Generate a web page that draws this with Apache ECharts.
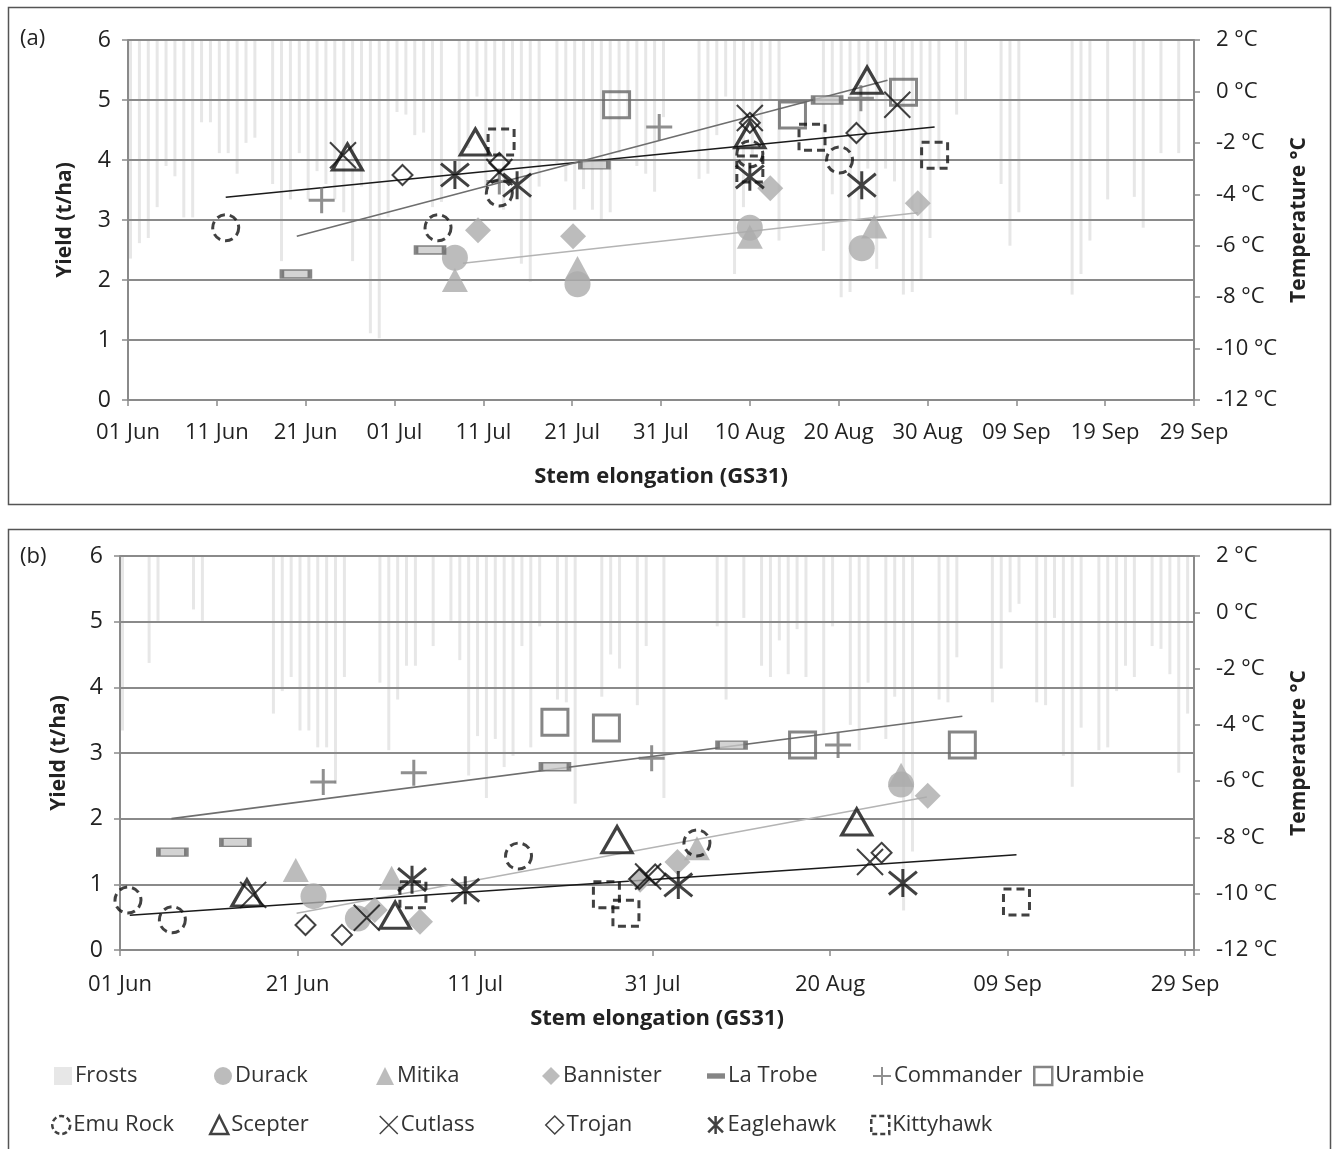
<!DOCTYPE html>
<html>
<head>
<meta charset="utf-8">
<script src="https://cdn.jsdelivr.net/npm/echarts@6/dist/echarts.min.js"></script>
<style>
html,body{margin:0;padding:0;background:#fff;}
#chart{width:1335px;height:1149px;}
</style>
</head>
<body>
<div id="chart"></div>
<script>
// ---------- DATA (x = days after 01 Jun, y = yield t/ha or temperature °C) ----------
const varieties = ['Durack','Mitika','Bannister','La Trobe','Commander','Urambie',
                   'Emu Rock','Scepter','Cutlass','Trojan','Eaglehawk','Kittyhawk'];

// Panel (a)
const frostA = [[0,-6.5],[1,-5.9],[2,-5.7],[3,-4.5],[4,-2.9],[5,-3.3],[6,-4.9],[7,-4.9],[8,-1.2],[9,-1.2],[10,-2.4],[11,-2.4],[12,-3.2],[13,-2.0],[14,-1.8],[16,-3.6],[17,-6.6],[18,-4.2],[19,-2.4],[20,-4.2],[21,-3.1],[22,-3.6],[23,-4.2],[24,-4.7],[25,-6.6],[26,-3.7],[27,-9.4],[28,-9.6],[29,-4.9],[30,-0.8],[31,-0.9],[32,-1.7],[33,-1.6],[34,-4.5],[35,-4.3],[37,-3.4],[38,-2.2],[39,-0.2],[40,-3.8],[41,-2.6],[42,-4.6],[43,-0.3],[44,-6.7],[45,-7.4],[46,-3.7],[48,-2.8],[49,-3.5],[50,-4.6],[51,-3.8],[52,-4.6],[53,-5.0],[54,-4.7],[55,-2.4],[56,-1.0],[57,-2.9],[58,-3.2],[59,-3.9],[60,-1.0],[64,-3.4],[65,-3.2],[66,-1.7],[67,-0.2],[68,-7.1],[69,-4.5],[70,-2.5],[71,-2.0],[72,-0.3],[73,-5.8],[78,-6.2],[79,-4.0],[80,-8.0],[81,-7.8],[82,-5.0],[83,-3.0],[84,-6.9],[85,-3.0],[86,-3.5],[87,-7.9],[88,-7.8],[89,-7.3],[90,-5.7],[91,-3.0],[93,-0.9],[94,-0.3],[98,-3.6],[99,-6.0],[100,-4.7],[106,-7.9],[107,-7.1],[108,-5.8],[110,-4.2],[113,-4.1],[114,-5.3],[116,-2.4],[118,-2.4]];
const durackA    = [[36.8,2.37],[50.6,1.93],[70,2.87],[82.6,2.53]];
const mitikaA    = [[36.8,2.0],[50.6,2.2],[70,2.72],[84,2.89]];
const bannisterA = [[39.4,2.83],[50.1,2.73],[72.3,3.53],[88.9,3.28]];
const latrobeA   = [[18.9,2.1],[34,2.5],[52.5,3.92],[78.7,5.0]];
const commanderA = [[21.8,3.33],[41.8,3.64],[59.8,4.55],[82.5,5.03]];
const urambieA   = [[55,4.92],[74.8,4.75],[87.3,5.13]];
const emurockA   = [[11,2.87],[34.9,2.87],[41.8,3.45],[70,4.1],[80.1,4.0]];
const scepterA   = [[24.7,4.05],[39.1,4.3],[70,4.42],[83.2,5.33]];
const cutlassA   = [[24.2,4.08],[41.8,3.8],[70,4.7],[86.6,4.92]];
const trojanA    = [[30.9,3.75],[41.8,3.95],[70,4.62],[82,4.45]];
const eaglehawkA = [[36.8,3.75],[43.8,3.58],[70,3.72],[82.6,3.58]];
const kittyhawkA = [[42,4.3],[70,3.85],[77,4.38],[90.8,4.08]];
const trendBlackA = [[11,3.38],[90.8,4.55]];
const trendGreyA  = [[19,2.73],[85.5,5.33]];
const trendLightA = [[37.7,2.28],[88.9,3.12]];

// Panel (b)
const frostB = [[0,-4.2],[3,-1.8],[4,-0.3],[8,0.1],[9,-0.3],[17,-3.6],[18,-2.8],[19,-2.3],[20,-4.2],[21,-4.2],[22,-4.8],[23,-4.8],[24,-6.1],[25,-2.3],[29,-2.5],[30,-4.9],[31,-3.1],[32,-1.9],[33,-1.9],[35,-1.2],[37,-0.3],[38,-1.7],[39,-5.8],[40,-4.4],[41,-6.6],[42,-4.5],[43,-5.5],[44,-5.1],[45,-1.2],[46,-4.8],[47,-0.5],[49,-3.1],[50,-3.2],[51,-6.8],[54,-3.0],[55,-1.5],[56,-2.0],[58,-3.3],[59,-1.2],[61,-6.6],[67,-0.5],[68,-3.1],[70,-0.2],[72,-1.9],[73,-2.3],[74,-1.0],[75,-2.2],[76,-0.6],[77,-2.3],[79,-4.3],[80,-0.5],[82,-4.0],[83,-4.9],[84,-2.5],[86,-4.5],[87,-3.0],[88,-10.6],[89,-8.5],[92,-3.1],[93,-3.2],[94,-1.6],[98,-3.2],[99,-2.0],[100,0.0],[101,0.3],[103,-3.2],[104,-3.3],[105,-0.2],[106,-5.1],[107,-6.2],[108,-4.1],[110,-4.9],[111,-4.8],[112,-2.8],[113,-1.9],[114,-2.3],[116,-1.2],[117,-1.3],[118,-2.2],[119,-5.7],[120,-3.6]];
const durackB    = [[21.8,0.82],[26.8,0.48],[88,2.52]];
const mitikaB    = [[19.8,1.22],[30.6,1.1],[65,1.55],[88,2.67]];
const bannisterB = [[28.7,0.61],[33.8,0.43],[58.6,1.07],[62.8,1.34],[91,2.35]];
const latrobeB   = [[5.9,1.49],[13,1.64],[49,2.79],[68.9,3.12]];
const commanderB = [[22.9,2.56],[33.1,2.7],[59.9,2.92],[80.9,3.12]];
const urambieB   = [[49,3.47],[54.8,3.38],[76.9,3.12],[94.9,3.12]];
const emurockB   = [[0.9,0.76],[5.9,0.46],[44.9,1.43],[65,1.63]];
const scepterB   = [[14.3,0.87],[31,0.53],[56,1.68],[83,1.95]];
const cutlassB   = [[15,0.84],[27.8,0.49],[59.5,1.12],[84.5,1.34]];
const trojanB    = [[20.9,0.38],[25,0.23],[58.5,1.08],[60.3,1.15],[85.8,1.48]];
const eaglehawkB = [[32.9,1.07],[38.9,0.91],[62.9,0.99],[88.2,1.02]];
const kittyhawkB = [[33,0.84],[54.8,0.84],[57,0.56],[101,0.73]];
const trendGreyB  = [[5.8,2.0],[94.9,3.56]];
const trendLightB = [[19.9,0.56],[90.9,2.33]];
const trendBlackB = [[1.1,0.53],[101,1.45]];

// ---------- STYLES ----------
const FONT = 'Open Sans';
const MONTHS = ['Jan','Feb','Mar','Apr','May','Jun','Jul','Aug','Sep','Oct','Nov','Dec'];
function dayLabel(d){
  const dt = new Date(Date.UTC(2021,5,1) + d*86400000);
  return String(dt.getUTCDate()).padStart(2,'0') + ' ' + MONTHS[dt.getUTCMonth()];
}
const PLUS = 'path://M0,-10L0,10M-10,0L10,0';
const CROSS = 'path://M-10,-10L10,10M-10,10L10,-10';
const STAR = 'path://M0,-11L0,11M-9,-9L9,9M-9,9L9,-9';
const LG = '#ababab', DG = '#666666', BK = '#111';
const FROST = '#e7e7e7';
const styleOf = {
  'Durack':    {symbol:'circle', symbolSize:26, itemStyle:{color:LG}},
  'Mitika':    {symbol:'triangle', symbolSize:[26,24], itemStyle:{color:LG}},
  'Bannister': {symbol:'diamond', symbolSize:26, itemStyle:{color:LG}},
  'La Trobe':  {symbol:'rect', symbolSize:[28,8], itemStyle:{color:'#c8c8c8', borderColor:DG, borderWidth:2.5}},
  'Commander': {symbol:PLUS, symbolSize:26, itemStyle:{color:'transparent', borderColor:'#737373', borderWidth:3}},
  'Urambie':   {symbol:'rect', symbolSize:26, itemStyle:{color:'transparent', borderColor:DG, borderWidth:3}},
  'Emu Rock':  {symbol:'circle', symbolSize:26, itemStyle:{color:'transparent', borderColor:BK, borderWidth:3, borderType:[8,5]}},
  'Scepter':   {symbol:'triangle', symbolSize:[30,26], itemStyle:{color:'transparent', borderColor:BK, borderWidth:3.2}},
  'Cutlass':   {symbol:CROSS, symbolSize:26, itemStyle:{color:'transparent', borderColor:BK, borderWidth:2}},
  'Trojan':    {symbol:'diamond', symbolSize:20, itemStyle:{color:'transparent', borderColor:BK, borderWidth:2}},
  'Eaglehawk': {symbol:STAR, symbolSize:28, itemStyle:{color:'transparent', borderColor:BK, borderWidth:3}},
  'Kittyhawk': {symbol:'rect', symbolSize:26, itemStyle:{color:'transparent', borderColor:BK, borderWidth:3, borderType:[8,5]}}
};
const dataA = {'Durack':durackA,'Mitika':mitikaA,'Bannister':bannisterA,'La Trobe':latrobeA,'Commander':commanderA,'Urambie':urambieA,'Emu Rock':emurockA,'Scepter':scepterA,'Cutlass':cutlassA,'Trojan':trojanA,'Eaglehawk':eaglehawkA,'Kittyhawk':kittyhawkA};
const dataB = {'Durack':durackB,'Mitika':mitikaB,'Bannister':bannisterB,'La Trobe':latrobeB,'Commander':commanderB,'Urambie':urambieB,'Emu Rock':emurockB,'Scepter':scepterB,'Cutlass':cutlassB,'Trojan':trojanB,'Eaglehawk':eaglehawkB,'Kittyhawk':kittyhawkB};

const AX = '#8a8a8a', TXT = '#222';

function xAxisFor(gi, max, interval, margin, nameGap){
  return {
    type:'value', gridIndex:gi, min:0, max:max, interval:interval,
    axisLine:{show:true, onZero:false, lineStyle:{color:AX, width:2}},
    axisTick:{show:true, length:6, lineStyle:{color:AX, width:1.5}},
    splitLine:{show:false},
    axisLabel:{fontFamily:FONT, fontSize:22, color:TXT, margin:margin,
      formatter:v => (v % interval === 0 ? dayLabel(v) : '')},
    name:'Stem elongation (GS31)', nameLocation:'middle', nameGap:nameGap,
    nameTextStyle:{fontFamily:FONT, fontSize:22, fontWeight:'bold', color:TXT}
  };
}
function yieldAxis(gi, nameGap){
  return {
    type:'value', gridIndex:gi, min:0, max:6, interval:1, position:'left',
    axisLine:{show:true, lineStyle:{color:AX, width:2}},
    axisTick:{show:true, length:6, lineStyle:{color:AX, width:1.5}},
    splitLine:{show:true, lineStyle:{color:AX, width:2}},
    axisLabel:{fontFamily:FONT, fontSize:23, color:TXT, margin:17},
    name:'Yield (t/ha)', nameLocation:'middle', nameGap:nameGap, nameRotate:90,
    nameTextStyle:{fontFamily:FONT, fontSize:21, fontWeight:'bold', color:TXT}
  };
}
function tempAxis(gi, nameGap){
  return {
    type:'value', gridIndex:gi, min:-12, max:2, interval:2, position:'right',
    axisLine:{show:true, lineStyle:{color:AX, width:2}},
    axisTick:{show:true, length:6, lineStyle:{color:AX, width:1.5}},
    splitLine:{show:false},
    axisLabel:{fontFamily:FONT, fontSize:22, color:TXT, margin:22, formatter:v => v + ' °C'},
    name:'Temperature °C', nameLocation:'middle', nameGap:nameGap, nameRotate:90,
    nameTextStyle:{fontFamily:FONT, fontSize:21, fontWeight:'bold', color:TXT}
  };
}

function frostSeries(data, xi, yi){
  return {
    type:'custom', name:'Frosts', xAxisIndex:xi, yAxisIndex:yi, z:-1,
    itemStyle:{color:FROST},
    encode:{x:0, y:1},
    data:data, silent:true,
    renderItem:function(params, api){
      const top = api.coord([api.value(0), 2]);
      const bot = api.coord([api.value(0), api.value(1)]);
      return {type:'rect', shape:{x:top[0]+1, y:top[1], width:3, height:bot[1]-top[1]},
              style:{fill:FROST}};
    }
  };
}
function trend(data, color, xi, yi, name){
  return {type:'line', name:name, xAxisIndex:xi, yAxisIndex:yi, data:data, showSymbol:false,
          symbol:'none', z:3, lineStyle:{color:color, width:1.6}, silent:true};
}

const series = [];
series.push(frostSeries(frostA, 0, 1));
series.push(frostSeries(frostB, 1, 3));
series.push(trend(trendBlackA, '#1a1a1a', 0, 0, 'tA1'));
series.push(trend(trendGreyA, '#6e6e6e', 0, 0, 'tA2'));
series.push(trend(trendLightA, '#b4b4b4', 0, 0, 'tA3'));
series.push(trend(trendGreyB, '#6e6e6e', 1, 2, 'tB1'));
series.push(trend(trendLightB, '#b4b4b4', 1, 2, 'tB2'));
series.push(trend(trendBlackB, '#1a1a1a', 1, 2, 'tB3'));
varieties.forEach(v => {
  series.push(Object.assign({type:'scatter', name:v, xAxisIndex:0, yAxisIndex:0, z:4, data:dataA[v], emphasis:{disabled:true}}, styleOf[v]));
  series.push(Object.assign({type:'scatter', name:v, xAxisIndex:1, yAxisIndex:2, z:4, data:dataB[v], emphasis:{disabled:true}}, styleOf[v]));
});

// legend entries: name, icon, icon style, position (left edge of icon, vertical centre)
const legendItems = [
  ['Frosts','rect',{color:FROST}, 54, 1078],
  ['Durack','circle',{color:LG}, 214, 1078],
  ['Mitika','triangle',{color:LG}, 376, 1078],
  ['Bannister','diamond',{color:LG}, 542, 1078],
  ['La Trobe','path://M0,0L20,0L20,6L0,6Z',{color:DG, borderColor:DG, borderWidth:0}, 707, 1078],
  ['Commander',PLUS,{color:'transparent', borderColor:'#737373', borderWidth:2}, 872, 1078],
  ['Urambie','rect',{color:'transparent', borderColor:DG, borderWidth:2.5}, 1033, 1078],
  ['Emu Rock','circle',{color:'transparent', borderColor:BK, borderWidth:2.5, borderType:[5,3]}, 51, 1127],
  ['Scepter','triangle',{color:'transparent', borderColor:BK, borderWidth:2.5}, 209, 1127],
  ['Cutlass',CROSS,{color:'transparent', borderColor:BK, borderWidth:1.5}, 379, 1127],
  ['Trojan','diamond',{color:'transparent', borderColor:BK, borderWidth:1.5}, 545, 1127],
  ['Eaglehawk',STAR,{color:'transparent', borderColor:BK, borderWidth:2.5}, 707, 1127],
  ['Kittyhawk','rect',{color:'transparent', borderColor:BK, borderWidth:2.5, borderType:[5,3]}, 870, 1127]
];
const legends = legendItems.map(it => ({
  left: it[3], top: it[4] - 13, orient:'horizontal', itemWidth:18, itemHeight:18,
  selectedMode:false, padding:0,
  data:[{name:it[0], icon:it[1], itemStyle:it[2]}],
  textStyle:{fontFamily:FONT, fontSize:22, color:'#333', padding:[0,0,0,-2]}
}));

const chart = echarts.init(document.getElementById('chart'), null, {renderer:'canvas'});
chart.setOption({
  animation:false,
  backgroundColor:'#fff',
  grid:[
    {left:128, right:141, top:40, bottom:749},
    {left:120, right:141, top:556, bottom:199}
  ],
  xAxis:[ xAxisFor(0, 120, 10, 22, 66), xAxisFor(1, 121, 20, 24, 58) ],
  yAxis:[ yieldAxis(0, 52), tempAxis(0, 86), yieldAxis(1, 50), tempAxis(1, 92) ],
  legend:legends,
  graphic:[
    {type:'rect', shape:{x:8.5, y:7.5, width:1322, height:497}, style:{fill:'none', stroke:'#555', lineWidth:1.5}, silent:true, z:-1},
    {type:'rect', shape:{x:8.5, y:529.5, width:1322, height:640}, style:{fill:'none', stroke:'#555', lineWidth:1.5}, silent:true, z:-1},
    {type:'text', left:20, top:28, style:{text:'(a)', font:'22px "Open Sans"', fill:'#222'}, silent:true},
    {type:'text', left:20, top:546, style:{text:'(b)', font:'22px "Open Sans"', fill:'#222'}, silent:true}
  ],
  series:series
});
</script>
</body>
</html>
